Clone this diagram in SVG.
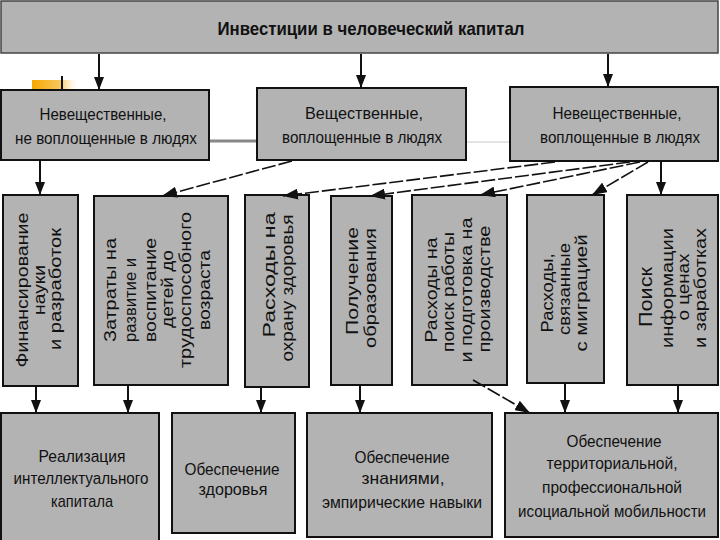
<svg xmlns="http://www.w3.org/2000/svg" width="720" height="540" viewBox="0 0 720 540">
<style>
.box{fill:#b3b3b3;stroke:#111;stroke-width:2}
.t{font-family:"Liberation Sans",Arial,sans-serif;font-size:17px;fill:#111;text-anchor:middle}
.r{font-family:"Liberation Sans",Arial,sans-serif;font-size:16px;fill:#111;text-anchor:middle}
.title{font-family:"Liberation Sans",Arial,sans-serif;font-size:19px;font-weight:bold;fill:#111;text-anchor:middle}
.sol{stroke:#111;stroke-width:2;fill:none;marker-end:url(#ah)}
.dsh{stroke:#111;stroke-width:1.6;fill:none;stroke-dasharray:14 3;marker-end:url(#ah2)}
</style>
<defs>
<marker id="ah" markerUnits="userSpaceOnUse" markerWidth="13" markerHeight="10" refX="13" refY="5" orient="auto"><path d="M0,0 L13,5 L0,10 z" fill="#111"/></marker>
<marker id="ah2" markerUnits="userSpaceOnUse" markerWidth="15" markerHeight="11" refX="15" refY="5.5" orient="auto"><path d="M0,0 L15,5.5 L0,11 z" fill="#111"/></marker>
<linearGradient id="og" x1="0" x2="1" y1="0" y2="0"><stop offset="0" stop-color="#f5a800"/><stop offset="0.6" stop-color="#f8c860"/><stop offset="1" stop-color="#ffffff" stop-opacity="0"/></linearGradient>
</defs>
<rect width="720" height="540" fill="#fff"/>
<g id="decor">
<rect x="32" y="80" width="48" height="11" fill="url(#og)"/>
<line x1="62" y1="76" x2="62" y2="91" stroke="#111" stroke-width="2"/>
<line x1="209" y1="141" x2="257" y2="141" stroke="#888" stroke-width="3"/>
<line x1="466" y1="142" x2="510" y2="142" stroke="#e4e4e4" stroke-width="2"/>
</g>
<g id="n-top"><rect class="box" x="1" y="1" width="717" height="52" style="stroke:#444;stroke-width:1.5"/>
<text class="title" x="371" y="35" textLength="307" lengthAdjust="spacingAndGlyphs">Инвестиции в человеческий капитал</text></g>
<g id="n-left"><rect class="box" x="1" y="90" width="208" height="70"/>
<text class="t" x="103" y="120" textLength="127" lengthAdjust="spacingAndGlyphs">Невещественные,</text>
<text class="t" x="106" y="144" textLength="182" lengthAdjust="spacingAndGlyphs">не воплощенные в людях</text></g>
<g id="n-mid"><rect class="box" x="257" y="88" width="209" height="72"/>
<text class="t" x="364" y="119" textLength="118" lengthAdjust="spacingAndGlyphs">Вещественные,</text>
<text class="t" x="362" y="143" textLength="160" lengthAdjust="spacingAndGlyphs">воплощенные в людях</text></g>
<g id="n-right"><rect class="box" x="510" y="87" width="208" height="74"/>
<text class="t" x="617" y="119" textLength="129" lengthAdjust="spacingAndGlyphs">Невещественные,</text>
<text class="t" x="620" y="143" textLength="160" lengthAdjust="spacingAndGlyphs">воплощенные в людях</text></g>
<g id="n-v1"><rect class="box" x="3" y="195" width="75" height="191"/>
<text class="r" transform="translate(28,290) rotate(-90)" textLength="155" lengthAdjust="spacingAndGlyphs">Финансирование</text>
<text class="r" transform="translate(45,290) rotate(-90)" textLength="50" lengthAdjust="spacingAndGlyphs">науки</text>
<text class="r" transform="translate(61,289) rotate(-90)" textLength="122" lengthAdjust="spacingAndGlyphs">и разработок</text></g>
<g id="n-v2"><rect class="box" x="94" y="196" width="134" height="189"/>
<text class="r" transform="translate(116,290) rotate(-90)" textLength="104" lengthAdjust="spacingAndGlyphs">Затраты на</text>
<text class="r" transform="translate(136,300) rotate(-90)" textLength="84" lengthAdjust="spacingAndGlyphs">развитие и</text>
<text class="r" transform="translate(156,290) rotate(-90)" textLength="104" lengthAdjust="spacingAndGlyphs">воспитание</text>
<text class="r" transform="translate(173,289) rotate(-90)" textLength="78" lengthAdjust="spacingAndGlyphs">детей до</text>
<text class="r" transform="translate(191,290) rotate(-90)" textLength="156" lengthAdjust="spacingAndGlyphs">трудоспособного</text>
<text class="r" transform="translate(210,290) rotate(-90)" textLength="80" lengthAdjust="spacingAndGlyphs">возраста</text></g>
<g id="n-v3"><rect class="box" x="245" y="195" width="64" height="192"/>
<text class="r" transform="translate(275,275) rotate(-90)" textLength="125" lengthAdjust="spacingAndGlyphs">Расходы на</text>
<text class="r" transform="translate(293,288) rotate(-90)" textLength="147" lengthAdjust="spacingAndGlyphs">охрану здоровья</text></g>
<g id="n-v4"><rect class="box" x="331" y="196" width="61" height="189"/>
<text class="r" transform="translate(358,281) rotate(-90)" textLength="108" lengthAdjust="spacingAndGlyphs">Получение</text>
<text class="r" transform="translate(376,288) rotate(-90)" textLength="120" lengthAdjust="spacingAndGlyphs">образования</text></g>
<g id="n-v5"><rect class="box" x="412" y="195" width="95" height="190"/>
<text class="r" transform="translate(437,290) rotate(-90)" textLength="105" lengthAdjust="spacingAndGlyphs">Расходы на</text>
<text class="r" transform="translate(454,292) rotate(-90)" textLength="120" lengthAdjust="spacingAndGlyphs">поиск работы</text>
<text class="r" transform="translate(472,290) rotate(-90)" textLength="145" lengthAdjust="spacingAndGlyphs">и подготовка на</text>
<text class="r" transform="translate(490,289) rotate(-90)" textLength="127" lengthAdjust="spacingAndGlyphs">производстве</text></g>
<g id="n-v6"><rect class="box" x="527" y="195" width="77" height="188"/>
<text class="r" transform="translate(553,293) rotate(-90)" textLength="79" lengthAdjust="spacingAndGlyphs">Расходы,</text>
<text class="r" transform="translate(570,289) rotate(-90)" textLength="92" lengthAdjust="spacingAndGlyphs">связанные</text>
<text class="r" transform="translate(587,293) rotate(-90)" textLength="117" lengthAdjust="spacingAndGlyphs">с миграцией</text></g>
<g id="n-v7"><rect class="box" x="627" y="195" width="91" height="190"/>
<text class="r" transform="translate(652,297) rotate(-90)" textLength="60" lengthAdjust="spacingAndGlyphs" style="font-size:18px">Поиск</text>
<text class="r" transform="translate(673,288) rotate(-90)" textLength="120" lengthAdjust="spacingAndGlyphs">информации</text>
<text class="r" transform="translate(689,287) rotate(-90)" textLength="67" lengthAdjust="spacingAndGlyphs">о ценах</text>
<text class="r" transform="translate(706,288) rotate(-90)" textLength="120" lengthAdjust="spacingAndGlyphs">и заработках</text></g>
<g id="n-b1"><rect class="box" x="1" y="413" width="158" height="130"/>
<text class="t" x="82" y="462" textLength="87" lengthAdjust="spacingAndGlyphs">Реализация</text>
<text class="t" x="81" y="484" textLength="135" lengthAdjust="spacingAndGlyphs">интеллектуального</text>
<text class="t" x="82" y="507" textLength="62" lengthAdjust="spacingAndGlyphs">капитала</text></g>
<g id="n-b2"><rect class="box" x="172" y="413" width="123" height="120"/>
<text class="t" x="232" y="475" textLength="95" lengthAdjust="spacingAndGlyphs">Обеспечение</text>
<text class="t" x="233" y="495" textLength="69" lengthAdjust="spacingAndGlyphs">здоровья</text></g>
<g id="n-b3"><rect class="box" x="307" y="413" width="185" height="124"/>
<text class="t" x="402" y="463" textLength="95" lengthAdjust="spacingAndGlyphs">Обеспечение</text>
<text class="t" x="403" y="484" textLength="83" lengthAdjust="spacingAndGlyphs">знаниями,</text>
<text class="t" x="402" y="508" textLength="160" lengthAdjust="spacingAndGlyphs">эмпирические навыки</text></g>
<g id="n-b4"><rect class="box" x="505" y="413" width="213" height="124"/>
<text class="t" x="614" y="447" textLength="95" lengthAdjust="spacingAndGlyphs">Обеспечение</text>
<text class="t" x="612" y="469" textLength="131" lengthAdjust="spacingAndGlyphs">территориальной,</text>
<text class="t" x="612" y="493" textLength="140" lengthAdjust="spacingAndGlyphs">профессиональной</text>
<text class="t" x="612" y="517" textLength="188" lengthAdjust="spacingAndGlyphs" style="font-size:16px">исоциальной мобильности</text></g>
<g id="connectors">
<line class="sol" x1="99" y1="54" x2="99" y2="90"/>
<line class="sol" x1="361" y1="54" x2="361" y2="88"/>
<line class="sol" x1="608" y1="54" x2="608" y2="87"/>
<line class="sol" x1="40" y1="161" x2="40" y2="195"/>
<line class="sol" x1="661" y1="161" x2="661" y2="195"/>
<line class="sol" x1="36" y1="387" x2="36" y2="413"/>
<line class="sol" x1="128" y1="386" x2="128" y2="413"/>
<line class="sol" x1="261" y1="388" x2="261" y2="413"/>
<line class="sol" x1="360" y1="386" x2="360" y2="413"/>
<line class="sol" x1="565" y1="384" x2="565" y2="413"/>
<line class="sol" x1="678" y1="386" x2="678" y2="413"/>
<line class="dsh" x1="292" y1="161" x2="162" y2="196"/>
<line class="dsh" x1="555" y1="162" x2="283" y2="196"/>
<line class="dsh" x1="630" y1="162" x2="370" y2="196"/>
<line class="dsh" x1="640" y1="162" x2="480" y2="195"/>
<line class="dsh" x1="648" y1="162" x2="592" y2="195"/>
<line class="dsh" x1="473" y1="380" x2="530" y2="413"/>
</g>
</svg>
